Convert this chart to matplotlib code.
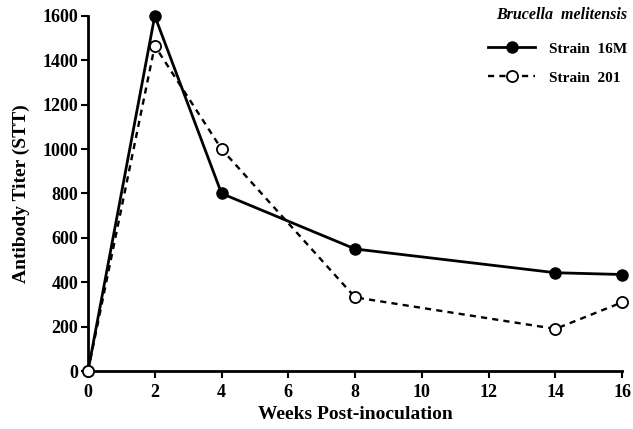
import matplotlib
matplotlib.use("Agg")
import matplotlib.pyplot as plt

# weeks post-inoculation
weeks = [0, 2, 4, 8, 14, 16]
# antibody titer (STT)
strain_16m = [0, 1600, 800, 550, 443, 435]
strain_201 = [0, 1465, 1000, 332, 190, 310]

x_ticks = [0, 2, 4, 6, 8, 10, 12, 14, 16]
y_ticks = [0, 200, 400, 600, 800, 1000, 1200, 1400, 1600]

plt.rcParams["font.family"] = ["Liberation Serif", "DejaVu Serif"]
plt.rcParams["font.weight"] = "bold"

fig = plt.figure(figsize=(6.33, 4.29), dpi=100)
ax = fig.add_axes([0.139, 0.135, 0.844, 0.828])

ax.plot(weeks, strain_16m, "-", color="black", lw=2.0, marker="o", ms=8,
        mfc="black", mec="black", clip_on=False, zorder=3, label="Strain  16M")
ax.plot(weeks, strain_201, "--", color="black", lw=1.7, dashes=(2.6, 2.2), marker="o", ms=8,
        mfc="white", mec="black", mew=1.3, clip_on=False, zorder=3, label="Strain  201")

ax.set_xlim(0, 16)
ax.set_ylim(0, 1600)
ax.set_xticks(x_ticks)
ax.set_yticks(y_ticks)
ax.tick_params(axis="both", direction="out", width=1.5, length=5, labelsize=13, pad=2)
ax.tick_params(axis="x", pad=4)
for lab in ax.get_xticklabels() + ax.get_yticklabels():
    lab.set_fontweight("bold")

for side in ("top", "right"):
    ax.spines[side].set_visible(False)
for side in ("left", "bottom"):
    ax.spines[side].set_linewidth(2.0)

ax.set_xlabel("Weeks Post-inoculation", fontsize=14, fontweight="bold", labelpad=4)
ax.set_ylabel("Antibody Titer (STT)", fontsize=14, fontweight="bold", labelpad=9)

leg = ax.legend(loc="upper right", bbox_to_anchor=(1.035, 1.065), frameon=False,
                title="Brucella  melitensis", handlelength=3.1, handletextpad=0.9,
                fontsize=11, labelspacing=1.0, alignment="right")
leg.get_title().set_fontstyle("italic")
leg.get_title().set_fontweight("bold")
leg.get_title().set_fontsize(11.5)
leg._legend_box.sep = 14
for t in leg.get_texts():
    t.set_fontweight("bold")

fig.savefig("out.png", dpi=100)
